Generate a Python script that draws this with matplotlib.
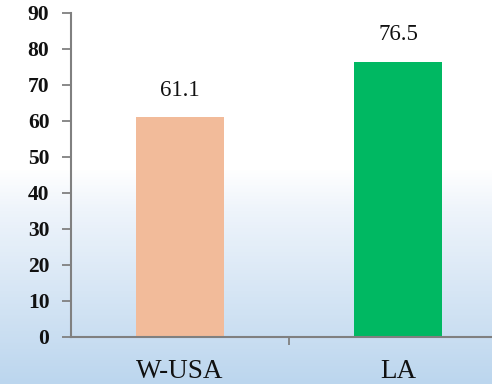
import numpy as np
import matplotlib
matplotlib.use("Agg")
import matplotlib.pyplot as plt
from matplotlib.colors import LinearSegmentedColormap

categories = ["W-USA", "LA"]
values = [61.1, 76.5]
colors = ["#F2BB9A", "#00B862"]
yticks = [0, 10, 20, 30, 40, 50, 60, 70, 80, 90]

plt.rcParams['font.family'] = ['Liberation Serif', 'DejaVu Serif']

fig = plt.figure(figsize=(4.92, 3.84), dpi=100)

# background gradient
bg = fig.add_axes([0, 0, 1, 1], zorder=0)
bg.axis('off')
grad = np.linspace(0, 1, 384).reshape(-1, 1)
cmap = LinearSegmentedColormap.from_list(
    "bg", [(0.0, "#FFFFFF"), (0.44, "#FFFFFF"), (0.55, "#EEF4FB"), (1.0, "#BCD6EE")])
bg.imshow(grad, aspect='auto', cmap=cmap, extent=[0, 1, 0, 1], origin='upper')
bg.set_xlim(0, 1); bg.set_ylim(0, 1)

# axes: y axis at x=71px, y=0 at 337px, y=90 at 13px; category width 218px
left = 71 / 492
bottom = (384 - 337) / 384
height = (337 - 13) / 384
width = 436 / 492
ax = fig.add_axes([left, bottom, width, height], zorder=1)
ax.patch.set_alpha(0)

x = np.arange(len(categories))
ax.bar(x, values, width=0.40, color=colors, zorder=2)
for xi, v in zip(x, values):
    ax.text(xi, v + 7.5, f"{v}", ha='center', va='center', fontsize=16.5, color='#111111')

ax.set_xlim(-0.5, 1.5)
ax.set_ylim(0, 90)
ax.set_yticks(yticks)
ax.set_yticklabels([str(t) for t in yticks], fontsize=15.5, fontweight='bold', color='#111111')
ax.set_xticks([0.5])
ax.set_xticklabels([""])
ax.tick_params(axis='x', length=6, width=1.3, color='#808080', direction='out')
ax.tick_params(axis='y', length=6.5, width=1.3, color='#808080', direction='out', pad=9)
for xi, c in zip(x, categories):
    ax.text(xi, -9.6, c, ha='center', va='center', fontsize=19.5, color='#111111')

for s in ['top', 'right']:
    ax.spines[s].set_visible(False)
for s in ['left', 'bottom']:
    ax.spines[s].set_color('#808080')
    ax.spines[s].set_linewidth(1.5)

fig.savefig("out.png", dpi=100)
